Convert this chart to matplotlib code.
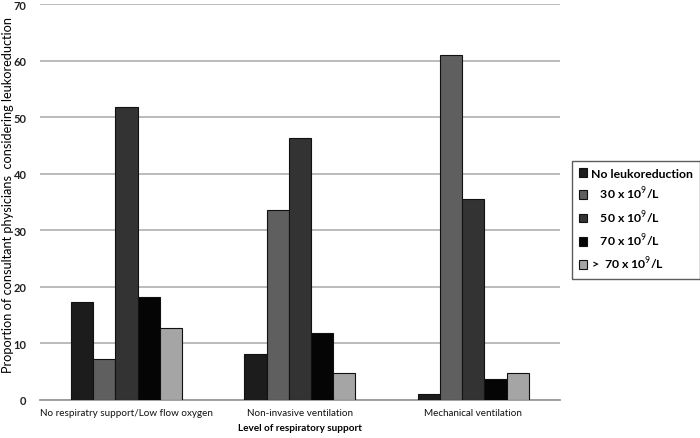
import matplotlib
matplotlib.use("Agg")
import matplotlib.pyplot as plt
import numpy as np

plt.rcParams['font.family'] = ['Lato', 'DejaVu Sans']
plt.rcParams['mathtext.fontset'] = 'custom'
plt.rcParams['mathtext.rm'] = 'Lato'
plt.rcParams['mathtext.bf'] = 'Lato:bold'

categories = ["No respiratry support/Low flow oxygen", "Non-invasive ventilation", "Mechanical ventilation"]
series_names = ["No leukoreduction", "   30 x 10$^{9}$/L", "   50 x 10$^{9}$/L", "   70 x 10$^{9}$/L", ">  70 x 10$^{9}$/L"]
no_leuko = [17.4, 8.2, 1.0]
v30 = [7.2, 33.6, 60.9]
v50 = [51.8, 46.3, 35.5]
v70 = [18.2, 11.8, 3.7]
vgt70 = [12.8, 4.7, 4.7]
yticks = [0, 10, 20, 30, 40, 50, 60, 70]

colors = ["#1c1c1c", "#5f5f5f", "#333333", "#050505", "#a5a5a5"]
series = [no_leuko, v30, v50, v70, vgt70]

fig = plt.figure(figsize=(7, 4.39), dpi=100)
ax = fig.add_axes([0.057, 0.0866, 0.743, 0.902])

x = np.arange(len(categories))
w = 0.128
for i, (vals, c, name) in enumerate(zip(series, colors, series_names)):
    ax.bar(x + (i - 2) * w, vals, width=w, color=c, edgecolor='#111111',
           linewidth=0.8, label=name, zorder=3)

ax.set_xlim(-0.5, 2.5)
ax.set_ylim(0, 70)
ax.set_yticks(yticks)
ax.set_yticklabels([str(t) for t in yticks], fontsize=8, fontweight='bold', color='#222222')
ax.set_xticks(x)
ax.set_xticklabels(categories, fontsize=7.1, color='#111111')
ax.tick_params(axis='both', length=0)
ax.tick_params(axis='y', pad=9.5)
ax.tick_params(axis='x', pad=6)
ax.yaxis.grid(True, color='#b5b5b5', linewidth=1.3, zorder=0)
for s in ['left', 'right', 'top']:
    ax.spines[s].set_visible(False)
ax.spines['bottom'].set_color('#9a9a9a')
ax.spines['bottom'].set_linewidth(1.3)

ax.set_xlabel("Level of respiratory support", fontsize=7.2, fontweight='bold', labelpad=4)
fig.text(8 / 700, 1 - 195 / 439, "Proportion of consultant physicians  considering leukoreduction",
         rotation=90, ha='center', va='center', fontsize=9.2)

leg = fig.legend(loc='upper left', bbox_to_anchor=(572 / 700, 1 - 162 / 439), borderaxespad=0,
                 frameon=True, fancybox=False, edgecolor='#333333',
                 handlelength=0.7, handleheight=0.7, handletextpad=0.3,
                 labelspacing=0.5, borderpad=0.55, prop={'weight': 'bold', 'size': 8.8})
leg.get_frame().set_linewidth(1.0)

fig.savefig("out.png", dpi=100)
